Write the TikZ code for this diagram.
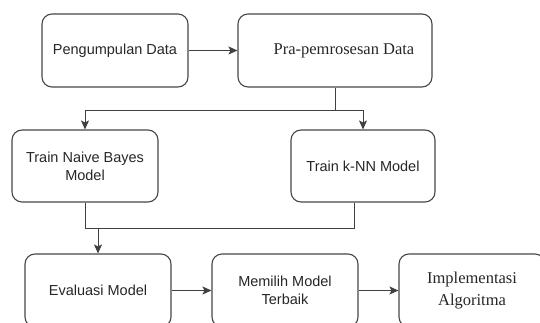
\documentclass[tikz,border=0pt]{standalone}
\usepackage{fontspec}
\setmainfont{Liberation Serif}
\setsansfont{Liberation Sans}
\usetikzlibrary{arrows.meta}
\begin{document}
\begin{tikzpicture}[x=1pt,y=-1pt,
  box/.style={draw=black!72, line width=1.1pt, rounded corners=10pt, minimum height=73pt, inner sep=0pt, align=center, text=black!85, font=\sffamily\fontsize{14.5}{18}\selectfont},
  serif/.style={font=\rmfamily\fontsize{16.5}{22}\selectfont},
  conn/.style={draw=black!75, line width=1pt, -{Stealth[length=9pt,width=8pt,inset=2pt]}},
  plain/.style={draw=black!75, line width=1pt}]
\useasboundingbox (0,0) rectangle (540,323);
\node[box, minimum width=146pt] (b1) at (115,50.5) {Pengumpulan Data};
\node[box, minimum width=194pt, serif] (b2) at (335,50.5) {\hspace*{18pt}Pra-pemrosesan Data};
\node[box, minimum width=146pt, minimum height=72pt] (b3) at (85,166) {Train Naive Bayes\\Model};
\node[box, minimum width=144pt, minimum height=72pt] (b4) at (363,166) {Train k-NN Model};
\node[box, minimum width=146pt] (b5) at (98,290.5) {Evaluasi Model};
\node[box, minimum width=146pt] (b6) at (285,290.5) {Memilih Model\\Terbaik};
\node[box, minimum width=146pt, serif] (b7) at (472,290.5) {Implementasi\\Algoritma};
\coordinate (j1) at (335,111);
\coordinate (j2) at (85,228);
\coordinate (j3) at (354,228);
\coordinate (j4) at (98,228);
\draw[conn] (b1.east) -- (b2.west);
\draw[plain] (b2.south) -- (j1);
\draw[conn] (j1) -| (b3.north);
\draw[conn] (j1) -| (b4.north);
\draw[plain] (b3.south) -- (j2) -- (j3) -- (b4.south -| j3);
\draw[conn] (j4) -- (b5.north);
\draw[conn] (b5.east) -- (b6.west);
\draw[conn] (b6.east) -- (b7.west);
\end{tikzpicture}
\end{document}
